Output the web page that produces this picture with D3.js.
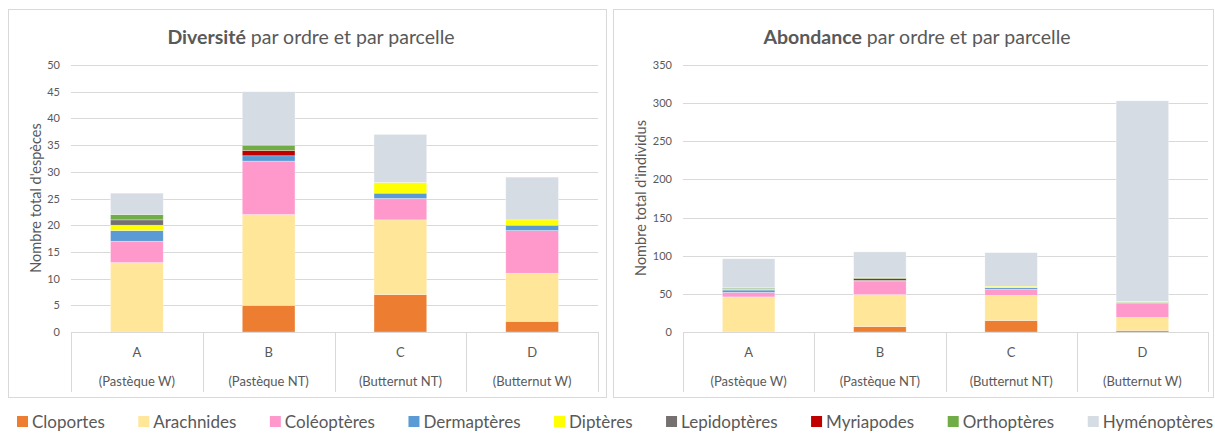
<!DOCTYPE html>
<html>
<head>
<meta charset="utf-8">
<script src="https://cdn.jsdelivr.net/npm/d3@7"></script>
<style>
  body { margin: 0; background: #fff; }
  svg text { font-family: Lato, "Open Sans", sans-serif; fill: #595959; }
</style>
</head>
<body>
<svg id="chart" width="1215" height="433"></svg>
<script>
// parcelles
var categories = ["A", "B", "C", "D"];
var subLabels = ["(Pastèque W)", "(Pastèque NT)", "(Butternut NT)", "(Butternut W)"];

// ordres (ordre d'empilement)
var orders = ["Cloportes", "Arachnides", "Coléoptères", "Dermaptères", "Diptères",
              "Lepidoptères", "Myriapodes", "Orthoptères", "Hyménoptères"];
var colors = ["#ED7D31", "#FFE699", "#FF99CC", "#5B9BD5", "#FFFF00",
              "#767171", "#C00000", "#70AD47", "#D6DCE4"];

// diversité : nombre d'espèces par ordre, une ligne par parcelle
var diversite = [
  [0, 13, 4, 2, 1, 1, 0, 1, 4],
  [5, 17, 10, 1, 0, 0, 1, 1, 10],
  [7, 14, 4, 1, 2, 0, 0, 0, 9],
  [2, 9, 8, 1, 1, 0, 0, 0, 8]
];
var diversiteTicks = [0, 5, 10, 15, 20, 25, 30, 35, 40, 45, 50];

// abondance : nombre d'individus par ordre
var abondance = [
  [0, 46, 6, 3, 1, 1, 0, 1, 38],
  [7, 42, 17, 1, 0, 1, 2, 1, 34],
  [15, 33, 8, 2, 2, 0, 0, 0, 44],
  [2, 17, 19, 1, 1, 0, 0, 0, 263]
];
var abondanceTicks = [0, 50, 100, 150, 200, 250, 300, 350];

var svg = d3.select("#chart");

function drawPanel(opts) {
  var g = svg.append("g");

  // cadre
  g.append("rect")
    .attr("x", opts.px + 0.5).attr("y", 9.5)
    .attr("width", opts.pw).attr("height", 388)
    .attr("fill", "#fff").attr("stroke", "#d9d9d9");

  var x = d3.scaleBand().domain(categories)
      .range([opts.left, opts.right]).paddingInner(0).paddingOuter(0);
  var y = d3.scaleLinear().domain([0, opts.max]).range([332, 65]);

  // grille
  g.selectAll("line.grid").data(opts.ticks).enter()
    .append("line").attr("class", "grid")
    .attr("x1", opts.left).attr("x2", opts.right)
    .attr("y1", function(d){ return Math.round(y(d)) + 0.5; })
    .attr("y2", function(d){ return Math.round(y(d)) + 0.5; })
    .attr("stroke", "#d9d9d9").attr("stroke-width", 1);

  // axe y
  var yAxis = g.append("g")
    .attr("transform", "translate(" + (opts.left - 8) + ",0)")
    .call(d3.axisLeft(y).tickValues(opts.ticks).tickSize(0).tickPadding(3));
  yAxis.select(".domain").remove();
  yAxis.selectAll("text").attr("fill", "#595959").style("font-size", "11px")
    .style("font-family", "Lato, sans-serif");

  // titre axe y
  g.append("text")
    .attr("transform", "translate(" + opts.ytx + ",198) rotate(-90)")
    .attr("text-anchor", "middle")
    .style("font-size", "14.5px")
    .text(opts.yTitle);

  // barres empilées
  var rows = opts.data.map(function(r, i){
    var o = { cat: categories[i] };
    orders.forEach(function(k, j){ o[k] = r[j]; });
    return o;
  });
  var series = d3.stack().keys(orders)(rows);
  var bw = x.bandwidth() * 0.4;

  g.selectAll("g.serie").data(series).enter()
    .append("g").attr("class", "serie")
    .attr("fill", function(d, i){ return colors[i]; })
    .selectAll("rect").data(function(d){ return d; }).enter()
    .append("rect")
    .filter(function(d){ return d[1] > d[0]; })
    .attr("x", function(d){ return x(d.data.cat) + (x.bandwidth() - bw) / 2; })
    .attr("width", bw)
    .attr("y", function(d){ return y(d[1]); })
    .attr("height", function(d){ return y(d[0]) - y(d[1]); })
    .attr("stroke", "#fff").attr("stroke-opacity", 0.5).attr("stroke-width", 0.6);

  // axe catégories (tableau)
  g.append("line")
    .attr("x1", opts.left).attr("x2", opts.right)
    .attr("y1", 332.5).attr("y2", 332.5)
    .attr("stroke", "#d9d9d9");
  var seps = categories.map(function(c){ return x(c); }).concat([opts.right]);
  g.selectAll("line.sep").data(seps).enter()
    .append("line").attr("class", "sep")
    .attr("x1", function(d){ return Math.round(d) + 0.5; })
    .attr("x2", function(d){ return Math.round(d) + 0.5; })
    .attr("y1", 332).attr("y2", 392)
    .attr("stroke", "#d9d9d9");

  g.selectAll("text.cat").data(categories).enter()
    .append("text").attr("class", "cat")
    .attr("x", function(d){ return x(d) + x.bandwidth() / 2; })
    .attr("y", 357).attr("text-anchor", "middle")
    .style("font-size", "13px")
    .text(function(d){ return d; });
  g.selectAll("text.sub").data(subLabels).enter()
    .append("text").attr("class", "sub")
    .attr("x", function(d, i){ return x(categories[i]) + x.bandwidth() / 2; })
    .attr("y", 386).attr("text-anchor", "middle")
    .style("font-size", "13px")
    .text(function(d){ return d; });

  // titre
  var t = g.append("text")
    .attr("x", opts.px + opts.pw / 2 + 4).attr("y", 44)
    .attr("text-anchor", "middle")
    .style("font-size", "19.5px");
  t.append("tspan").style("font-weight", "bold").text(opts.bold);
  t.append("tspan").text(" par ordre et par parcelle");
}

drawPanel({ px: 8, pw: 598, left: 71, right: 598, max: 50, ticks: diversiteTicks,
  data: diversite, yTitle: "Nombre total d'espèces", ytx: 41, bold: "Diversité" });
drawPanel({ px: 613, pw: 600, left: 683, right: 1208, max: 350, ticks: abondanceTicks,
  data: abondance, yTitle: "Nombre total d'individus", ytx: 646, bold: "Abondance" });

// légende
var legend = svg.append("g").attr("class", "legend");
var items = legend.selectAll("g").data(orders).enter().append("g");
items.append("rect").attr("width", 11).attr("height", 11)
  .attr("y", -12)
  .attr("fill", function(d, i){ return colors[i]; });
items.append("text").attr("x", 15).attr("y", 0)
  .style("font-size", "17px")
  .text(function(d){ return d; });

var widths = [];
items.each(function(){ widths.push(this.getBBox().width); });
var x0 = 17, x1 = 1213;
var gap = (x1 - x0 - d3.sum(widths)) / (widths.length - 1);
var cx = x0;
items.attr("transform", function(d, i){
  var xx = cx;
  cx += widths[i] + gap;
  return "translate(" + xx + ",428)";
});
</script>
</body>
</html>
